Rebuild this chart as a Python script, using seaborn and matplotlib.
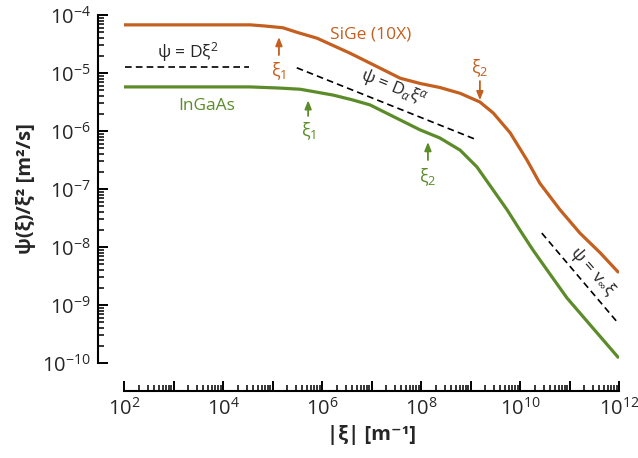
import numpy as np
import pandas as pd
import matplotlib
matplotlib.use("Agg")
import matplotlib.pyplot as plt
from matplotlib.ticker import LogLocator, NullFormatter
import seaborn as sns

# values, as log10(|xi|) and log10(psi/xi^2)
sige_logx = [2.0, 4.55, 4.85, 5.21, 5.5, 5.9, 6.57, 6.97, 7.58, 7.98, 8.38, 8.79, 9.19, 9.46, 9.8,
             10.14, 10.4, 10.81, 11.21, 11.62, 11.98]
sige_logy = [-4.17, -4.17, -4.19, -4.22, -4.30, -4.40, -4.66, -4.83, -5.09, -5.18, -5.25, -5.35, -5.50, -5.69, -6.03,
             -6.50, -6.90, -7.36, -7.76, -8.10, -8.43]
ingaas_logx = [2.0, 4.55, 5.15, 5.56, 6.22, 6.6, 6.97, 7.58, 7.98, 8.38, 8.79, 9.13, 9.46, 9.74, 10.0,
               10.26, 10.55, 10.95, 11.98]
ingaas_logy = [-5.24, -5.24, -5.26, -5.28, -5.38, -5.46, -5.55, -5.81, -5.98, -6.12, -6.33, -6.62, -7.02, -7.36, -7.71,
               -8.05, -8.40, -8.88, -9.90]

# asymptotes (dashed)
diff_logx, diff_logy = [2.02, 4.52], [-4.90, -4.90]
anom_logx, anom_logy = [5.49, 9.09], [-4.91, -6.14]
ball_logx, ball_logy = [10.44, 11.98], [-7.76, -9.31]

# crossover markers: (log x, arrow tail, arrow head, label y)
sige_xi = {"1": (5.13, -4.69, -4.38, -4.97), "2": (9.19, -5.14, -5.47, -4.92)}
ingaas_xi = {"1": (5.72, -5.74, -5.47, -6.00), "2": (8.14, -6.50, -6.19, -6.80)}

c_sige = "#c45f1f"
c_ingaas = "#5b8c29"

df = pd.concat([
    pd.DataFrame({"xi": 10.0 ** np.array(sige_logx), "val": 10.0 ** np.array(sige_logy), "mat": "SiGe"}),
    pd.DataFrame({"xi": 10.0 ** np.array(ingaas_logx), "val": 10.0 ** np.array(ingaas_logy), "mat": "InGaAs"}),
])

sns.set_style("ticks")
plt.rcParams["font.family"] = ["Open Sans", "DejaVu Sans"]
plt.rcParams["mathtext.fontset"] = "custom"
plt.rcParams["mathtext.rm"] = "Open Sans"
plt.rcParams["mathtext.it"] = "Open Sans:italic"
plt.rcParams["mathtext.bf"] = "Open Sans:bold"

fig = plt.figure(figsize=(6.38, 4.58), dpi=100)
ax = fig.add_axes([124 / 638, 1 - 363 / 458, 495 / 638, 348 / 458])

sns.lineplot(data=df, x="xi", y="val", hue="mat", palette={"SiGe": c_sige, "InGaAs": c_ingaas},
             lw=2.3, legend=False, ax=ax)
for ln in ax.get_lines():
    ln.set_solid_joinstyle("round")

for lx, ly in [(diff_logx, diff_logy), (anom_logx, anom_logy), (ball_logx, ball_logy)]:
    ax.plot(10.0 ** np.array(lx), 10.0 ** np.array(ly), ls=(0, (4, 2.5)), lw=1.2, c="k")

for marks, col in [(sige_xi, c_sige), (ingaas_xi, c_ingaas)]:
    for k, (lx, tail, head, lab) in marks.items():
        ax.annotate("", xy=(10 ** lx, 10 ** head), xytext=(10 ** lx, 10 ** tail),
                    arrowprops=dict(arrowstyle="-|>,head_length=0.5,head_width=0.2", color=col,
                                    lw=1.3, shrinkA=0, shrinkB=0))
        ax.text(10 ** lx, 10 ** lab, "ξ$_{%s}$" % k, color=col, fontsize=13, ha="center", va="center")

ax.text(10 ** 6.99, 10 ** -4.33, "SiGe (10X)", color=c_sige, fontsize=12.5, ha="center", va="center")
ax.text(10 ** 3.68, 10 ** -5.57, "InGaAs", color=c_ingaas, fontsize=12.5, ha="center", va="center")
ax.text(10 ** 3.29, 10 ** -4.64, "ψ = Dξ$^2$", fontsize=12.5, ha="center", va="center")
ax.text(10 ** 7.43, 10 ** -5.26, "ψ = D$_α$ξ$^α$", fontsize=12.5, ha="center", va="center",
        rotation=-22, rotation_mode="anchor")
ax.text(10 ** 11.47, 10 ** -8.43, "ψ = v$_∞$ξ", fontsize=12.5, ha="center", va="center",
        rotation=-49, rotation_mode="anchor")

ax.set(xscale="log", yscale="log", xlim=(1e2, 1e12), ylim=(1e-10, 1e-4))
ax.set_xticks([10.0 ** k for k in range(2, 13)])
ax.set_xticklabels(["$10^{%d}$" % k if k % 2 == 0 else "" for k in range(2, 13)])
ax.set_yticks([10.0 ** k for k in range(-10, -3)])
ax.set_yticklabels(["$10^{%d}$" % k for k in range(-10, -3)])
for axis in (ax.xaxis, ax.yaxis):
    axis.set_minor_locator(LogLocator(base=10, subs=np.arange(2, 10), numticks=100))
    axis.set_minor_formatter(NullFormatter())

ax.tick_params(which="major", direction="in", length=7.5, width=1.4, labelsize=14.5, pad=5, color="k")
ax.tick_params(which="minor", direction="in", length=4, width=1.1, color="k")
sns.despine(ax=ax, offset={"left": 19, "bottom": 20})
for s in ("left", "bottom"):
    ax.spines[s].set_linewidth(1.5)
    ax.spines[s].set_color("k")

ax.set_xlabel("|ξ| [m⁻¹]", fontsize=14.5, fontweight="bold", labelpad=4)
ax.set_ylabel("ψ(ξ)/ξ² [m²/s]", fontsize=14.5, fontweight="bold", labelpad=4)

fig.savefig("out.png", dpi=100)
